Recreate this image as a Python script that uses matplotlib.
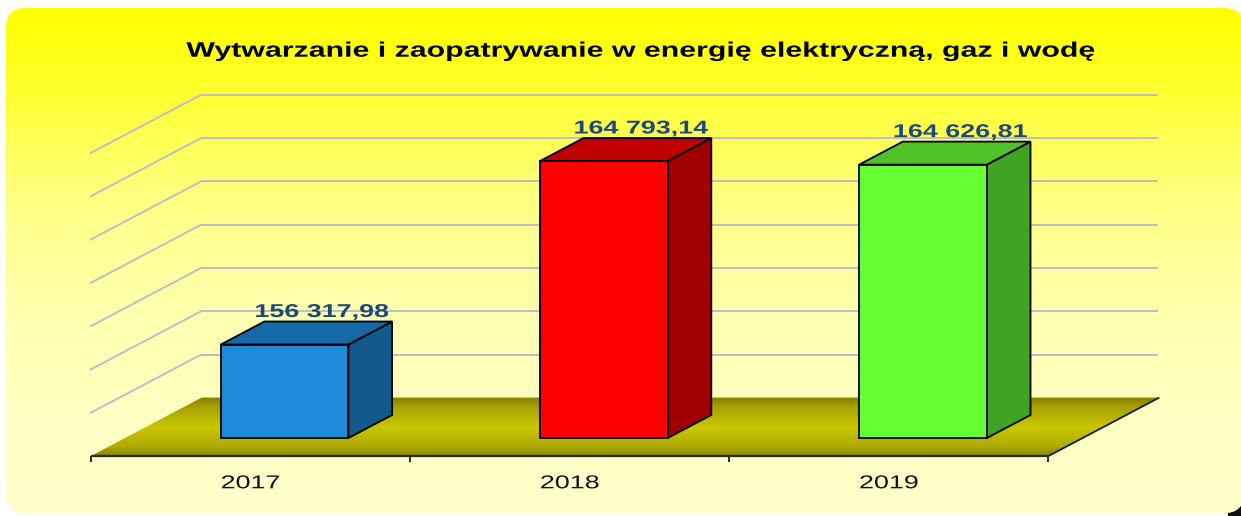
import numpy as np
import matplotlib
matplotlib.use('Agg')
import matplotlib.pyplot as plt
from matplotlib.patches import Polygon, FancyBboxPatch, Rectangle
from matplotlib.patheffects import AbstractPathEffect
from matplotlib.transforms import Affine2D

# ---------------- data ----------------
years = ['2017', '2018', '2019']
values = [156317.98, 164793.14, 164626.81]
value_labels = ['156 317,98', '164 793,14', '164 626,81']
title = 'Wytwarzanie i zaopatrywanie w energię elektryczną, gaz i wodę'
y_min, y_max, y_step = 152000, 166000, 2000

front_colors = ['#1E8BD8', '#FF0000', '#66FF33']
side_colors = ['#125A8C', '#A00000', '#40A322']
top_colors = ['#1469A6', '#C00000', '#4FC22A']

plt.rcParams['font.family'] = ['Liberation Sans', 'DejaVu Sans']


class StretchX(AbstractPathEffect):
    """Widen glyphs horizontally around the text centre (text stays a Text artist)."""
    def __init__(self, sx):
        super().__init__()
        self._sx = sx

    def draw_path(self, renderer, gc, tpath, affine, rgbFace=None):
        ext = tpath.get_extents(affine)
        cx = 0.5 * (ext.x0 + ext.x1)
        t = affine + Affine2D().translate(-cx, 0).scale(self._sx, 1).translate(cx, 0)
        renderer.draw_path(gc, tpath, t, rgbFace)


STRETCH = [StretchX(1.445)]

W, H = 1241, 516
fig = plt.figure(figsize=(W / 100, H / 100), dpi=100)
fig.patch.set_facecolor('white')

# ---------------- background panel ----------------
bg = fig.add_axes([0, 0, 1, 1])
bg.set_xlim(0, W)
bg.set_ylim(H, 0)
bg.axis('off')
bg.add_patch(Rectangle((1228, 500), 20, 20, facecolor='#101010', edgecolor='none', zorder=0.5))
panel = FancyBboxPatch((6, 8), 1238, 505, boxstyle='round,pad=0,rounding_size=20',
                       facecolor='#FFFFCC', edgecolor='none', transform=bg.transData, zorder=1)
bg.add_patch(panel)
rows = np.arange(H)
blue = np.interp(rows, [8, 60, 120, 200, 300, 420, 516], [0, 25, 70, 130, 172, 196, 204]) / 255.0
grad = np.zeros((H, 1, 3))
grad[:, 0, 0] = 1.0
grad[:, 0, 1] = 1.0
grad[:, 0, 2] = blue
im = bg.imshow(grad, extent=(0, W, H, 0), aspect='auto', interpolation='bilinear', zorder=2)
im.set_clip_path(panel)
bg.set_xlim(0, W)
bg.set_ylim(H, 0)

bg.text(641.7, 56.7, title, ha='center', va='baseline', fontsize=15.1,
        fontweight='bold', color='black', path_effects=STRETCH, zorder=3)

# ---------------- chart axes (oblique 3D look) ----------------
ax = fig.add_axes([0, 0, 1, 1])
ax.patch.set_alpha(0)
ax.axis('off')

PX_X0, PX_CAT = 250.5, 319.2         # category 0 centre & spacing in px
FLOOR_PY = 456                       # floor front edge in px from top
PX_PER_VAL = 43.3 / y_step
DX = 110 / PX_CAT                    # full depth offset (data units)
DY = 58 / PX_PER_VAL


def vpx(p):
    return p / PX_PER_VAL


xlim = (-PX_X0 / PX_CAT, (W - PX_X0) / PX_CAT)
ylim = (y_min - (H - FLOOR_PY) / PX_PER_VAL, y_min + FLOOR_PY / PX_PER_VAL)

x = np.arange(len(years))
n = len(years)
left, right = -0.5, n - 0.5

# gridlines: back wall and side wall
grid_c = '#BDBEC6'
for v in np.arange(y_min, y_max + 1, y_step):
    ax.plot([left + DX, right + DX], [v + DY, v + DY], color=grid_c, lw=1.4, zorder=1,
            solid_capstyle='butt')
    if v > y_min:
        ax.plot([left, left + DX], [v, v + DY], color=grid_c, lw=1.4, zorder=1)

# floor with gradient
floor = Polygon([(left, y_min), (right, y_min), (right + DX, y_min + DY), (left + DX, y_min + DY)],
                closed=True, facecolor='none', edgecolor='none', zorder=2)
ax.add_patch(floor)
t = np.linspace(0, 1, 64)
fr = np.interp(t, [0, 0.15, 0.5, 0.85, 1], [0.55, 0.68, 0.79, 0.66, 0.55])
fg = np.interp(t, [0, 0.15, 0.5, 0.85, 1], [0.52, 0.66, 0.78, 0.63, 0.51])
fimg = np.zeros((64, 1, 3))
fimg[:, 0, 0] = fr
fimg[:, 0, 1] = fg
fimg[:, 0, 2] = 0.0
fim = ax.imshow(fimg, extent=(left, right + DX, y_min, y_min + DY), origin='lower',
                aspect='auto', interpolation='bilinear', zorder=2)
fim.set_clip_path(floor)

# floor edges, axis line and ticks
ax.plot([left, right], [y_min, y_min], color='#2A2A2A', lw=1.6, zorder=3, solid_capstyle='butt')
ax.plot([right, right + DX], [y_min, y_min + DY], color='#1A1A1A', lw=1.3, zorder=3)
ax.vlines(np.arange(n + 1) - 0.5, y_min - vpx(6), y_min, color='#2A2A2A', lw=1.4, zorder=3)

# bars
d0, d1, bw = 0.31, 0.707, 0.4
dd = d1 - d0
vals = np.array(values)
ax.bar(x + d0 * DX, vals - y_min, bottom=y_min + d0 * DY, width=bw,
       color=front_colors, edgecolor='black', linewidth=1.3, zorder=6)
for i, v in enumerate(vals):
    xl = x[i] + d0 * DX - bw / 2
    xr = x[i] + d0 * DX + bw / 2
    yb = y_min + d0 * DY
    yt = v + d0 * DY
    side = Polygon([(xr, yb), (xr + dd * DX, yb + dd * DY), (xr + dd * DX, yt + dd * DY), (xr, yt)],
                   closed=True, facecolor=side_colors[i], edgecolor='black', lw=1.3, zorder=5)
    top = Polygon([(xl, yt), (xr, yt), (xr + dd * DX, yt + dd * DY), (xl + dd * DX, yt + dd * DY)],
                  closed=True, facecolor=top_colors[i], edgecolor='black', lw=1.3, zorder=5)
    ax.add_patch(side)
    ax.add_patch(top)
    ax.text(x[i] + (d0 + 0.85 * dd) * DX, v + d1 * DY + vpx(4.5), value_labels[i],
            ha='center', va='baseline', fontsize=13.4, fontweight='bold',
            color='#1F497D', zorder=8, path_effects=STRETCH)

# category labels
for i, yr in enumerate(years):
    ax.text(x[i], y_min - vpx(32.3), yr, ha='center', va='baseline', fontsize=13.4,
            color='#111111', zorder=8, path_effects=STRETCH)

ax.set_xlim(*xlim)
ax.set_ylim(*ylim)

fig.savefig('out.png', dpi=100, facecolor='white')
